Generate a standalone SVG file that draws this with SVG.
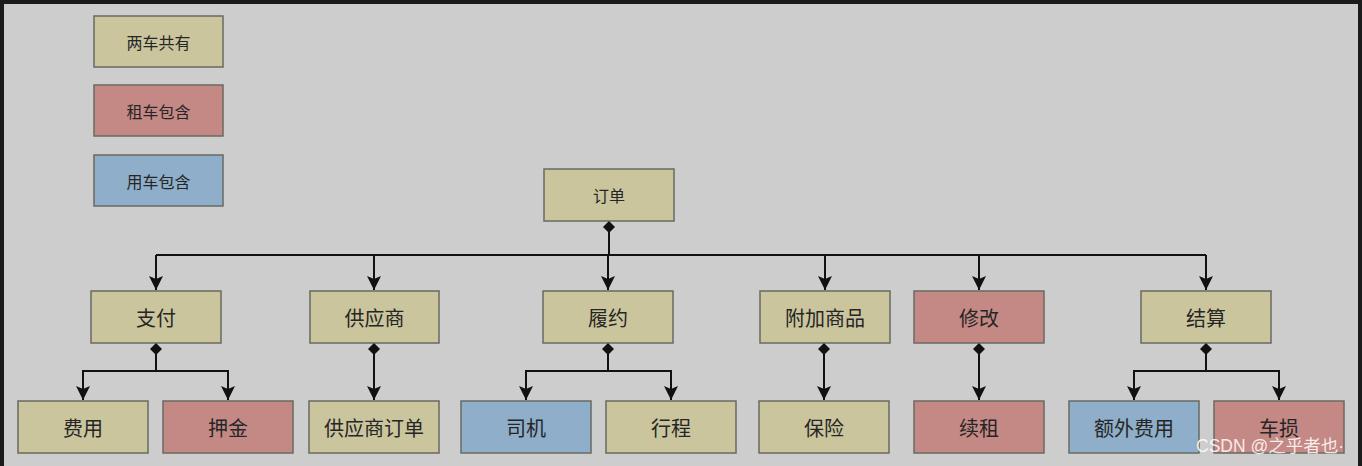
<svg xmlns="http://www.w3.org/2000/svg" width="1362" height="466" viewBox="0 0 1362 466">
  <style>
    .bg { fill: #cdcdcd; }
    .frame { fill: #1b1b1b; }
    .box { stroke: #6a6a62; stroke-width: 1.5; }
    .both { fill: #cac59d; }
    .rent { fill: #c58985; }
    .use { fill: #8eaeca; }
    .t { font-family: "Noto Sans CJK SC", "Noto Sans", sans-serif; fill: #262626; text-anchor: middle; dominant-baseline: central; }
    .s { font-size: 16px; }
    .m { font-size: 20px; }
    .wire { fill: none; stroke: #111; stroke-width: 2; }
    .wm { font-family: "Liberation Sans", "Noto Sans CJK SC", sans-serif; font-size: 17.5px; fill: #ffffff; fill-opacity: 0.85; }
  </style>
  <defs>
    <marker id="arrow" markerWidth="15" markerHeight="15" refX="7.5" refY="14" orient="0" markerUnits="userSpaceOnUse" viewBox="0 0 15 15">
      <path d="M0.5,0 L7.5,14 L14.5,0 L7.5,3 Z" fill="#111"/>
    </marker>
    <marker id="diamond" markerWidth="14" markerHeight="14" refX="6.5" refY="0" orient="0" markerUnits="userSpaceOnUse" viewBox="0 -1 13 14">
      <path d="M6.5,0 L12.5,6 L6.5,12 L0.5,6 Z" fill="#111"/>
    </marker>
  </defs>

  <rect class="bg" x="0" y="0" width="1362" height="466"/>
  <rect class="frame" x="0" y="0" width="1362" height="4"/>
  <rect class="frame" x="0" y="0" width="4" height="466"/>
  <rect class="frame" x="1358" y="0" width="4" height="466"/>

  <!-- legend -->
  <g id="legend-both"><rect class="box both" x="94" y="16" width="129" height="51"/><text class="t s" x="158.5" y="42">两车共有</text></g>
  <g id="legend-rent"><rect class="box rent" x="94" y="85" width="129" height="51"/><text class="t s" x="158.5" y="111">租车包含</text></g>
  <g id="legend-use"><rect class="box use" x="94" y="155" width="129" height="51"/><text class="t s" x="158.5" y="181">用车包含</text></g>

  <!-- connectors -->
  <g id="connectors">
    <path class="wire" marker-start="url(#diamond)" d="M609,221 L609,255"/>
    <path class="wire" d="M156,255 L1206,255"/>
    <path class="wire" marker-end="url(#arrow)" d="M156,255 L156,290"/>
    <path class="wire" marker-end="url(#arrow)" d="M374,255 L374,290"/>
    <path class="wire" marker-end="url(#arrow)" d="M608,255 L608,290"/>
    <path class="wire" marker-end="url(#arrow)" d="M825,255 L825,290"/>
    <path class="wire" marker-end="url(#arrow)" d="M979,255 L979,290"/>
    <path class="wire" marker-end="url(#arrow)" d="M1206,255 L1206,290"/>

    <path class="wire" marker-start="url(#diamond)" d="M156,343 L156,371"/>
    <path class="wire" marker-end="url(#arrow)" d="M156,371 L83,371 L83,400"/>
    <path class="wire" marker-end="url(#arrow)" d="M156,371 L228,371 L228,400"/>

    <path class="wire" marker-start="url(#diamond)" marker-end="url(#arrow)" d="M374,343 L374,400"/>

    <path class="wire" marker-start="url(#diamond)" d="M608,343 L608,371"/>
    <path class="wire" marker-end="url(#arrow)" d="M608,371 L526,371 L526,400"/>
    <path class="wire" marker-end="url(#arrow)" d="M608,371 L671,371 L671,400"/>

    <path class="wire" marker-start="url(#diamond)" marker-end="url(#arrow)" d="M824,343 L824,400"/>

    <path class="wire" marker-start="url(#diamond)" marker-end="url(#arrow)" d="M979,343 L979,400"/>

    <path class="wire" marker-start="url(#diamond)" d="M1206,343 L1206,371"/>
    <path class="wire" marker-end="url(#arrow)" d="M1206,371 L1134,371 L1134,400"/>
    <path class="wire" marker-end="url(#arrow)" d="M1206,371 L1279,371 L1279,400"/>
  </g>

  <!-- nodes -->
  <g id="order"><rect class="box both" x="544" y="169" width="130" height="52"/><text class="t s" x="609" y="195">订单</text></g>

  <g id="pay"><rect class="box both" x="91" y="291" width="130" height="52"/><text class="t m" x="156" y="317">支付</text></g>
  <g id="supplier"><rect class="box both" x="310" y="291" width="129" height="52"/><text class="t m" x="374.5" y="317">供应商</text></g>
  <g id="fulfil"><rect class="box both" x="543" y="291" width="130" height="52"/><text class="t m" x="608" y="317">履约</text></g>
  <g id="addon"><rect class="box both" x="760" y="291" width="130" height="52"/><text class="t m" x="825" y="317">附加商品</text></g>
  <g id="modify"><rect class="box rent" x="914" y="291" width="130" height="52"/><text class="t m" x="979" y="317">修改</text></g>
  <g id="settle"><rect class="box both" x="1141" y="291" width="130" height="52"/><text class="t m" x="1206" y="317">结算</text></g>

  <g id="fee"><rect class="box both" x="18" y="401" width="130" height="52"/><text class="t m" x="83" y="427">费用</text></g>
  <g id="deposit"><rect class="box rent" x="163" y="401" width="130" height="52"/><text class="t m" x="228" y="427">押金</text></g>
  <g id="supplier-order"><rect class="box both" x="309" y="401" width="130" height="52"/><text class="t m" x="374" y="427">供应商订单</text></g>
  <g id="driver"><rect class="box use" x="461" y="401" width="130" height="52"/><text class="t m" x="526" y="427">司机</text></g>
  <g id="trip"><rect class="box both" x="606" y="401" width="130" height="52"/><text class="t m" x="671" y="427">行程</text></g>
  <g id="insurance"><rect class="box both" x="759" y="401" width="130" height="52"/><text class="t m" x="824" y="427">保险</text></g>
  <g id="renew"><rect class="box rent" x="914" y="401" width="130" height="52"/><text class="t m" x="979" y="427">续租</text></g>
  <g id="extra-fee"><rect class="box use" x="1069" y="401" width="130" height="52"/><text class="t m" x="1134" y="427">额外费用</text></g>
  <g id="damage"><rect class="box rent" x="1214" y="401" width="130" height="52"/><text class="t m" x="1279" y="427">车损</text></g>

  <text class="wm" x="1196" y="452">CSDN @之乎者也·</text>
</svg>
